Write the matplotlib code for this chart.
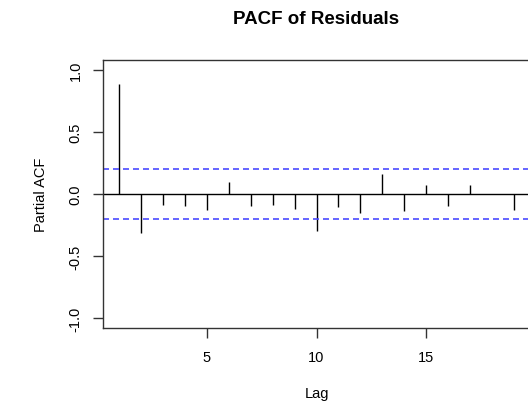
import matplotlib
matplotlib.use('Agg')
import matplotlib.pyplot as plt
import numpy as np

plt.rcParams['font.family'] = ['Liberation Sans', 'DejaVu Sans']

# partial autocorrelations
lags = np.arange(1, 20)
pacf = [0.89, -0.318, -0.089, -0.10, -0.126, 0.097, -0.10, -0.089, -0.118,
        -0.30, -0.108, -0.156, 0.164, -0.137, 0.07, -0.10, 0.07, 0.004, -0.129]
conf = 0.2

fig = plt.figure(figsize=(5.28, 4.06), dpi=100)
ax = fig.add_axes([103/528, 1 - 329/406, 427/528, 268/406])

ax.vlines(lags, 0, pacf, color='black', linewidth=1.0)
ax.axhline(0, color='black', linewidth=1.0)
ax.axhline(conf, color='#4a4aff', linewidth=1.2, dashes=(3.6, 2.4))
ax.axhline(-conf, color='#4a4aff', linewidth=1.2, dashes=(3.6, 2.4))

ax.set_xlim(0.28, 19.72)
ax.set_ylim(-1.08, 1.08)
ax.set_xticks([5, 10, 15])
ax.set_yticks([-1.0, -0.5, 0.0, 0.5, 1.0])
ax.set_yticklabels(['-1.0', '-0.5', '0.0', '0.5', '1.0'], rotation=90, va='center')

for s in ax.spines.values():
    s.set_color('#333333')
    s.set_linewidth(1.0)
ax.tick_params(length=7.2, width=1.0, color='#333333', labelsize=10.5)
ax.tick_params(axis='x', pad=8.5)
ax.tick_params(axis='y', pad=7.5)

ax.set_xlabel('Lag', fontsize=10.5, labelpad=16)
ax.set_ylabel('Partial ACF', fontsize=10.5, labelpad=15)
fig.text(316/528, 1 - 19/406, 'PACF of Residuals', ha='center', va='center',
         fontsize=13.5, fontweight='bold')

fig.savefig('out.png', dpi=100)
